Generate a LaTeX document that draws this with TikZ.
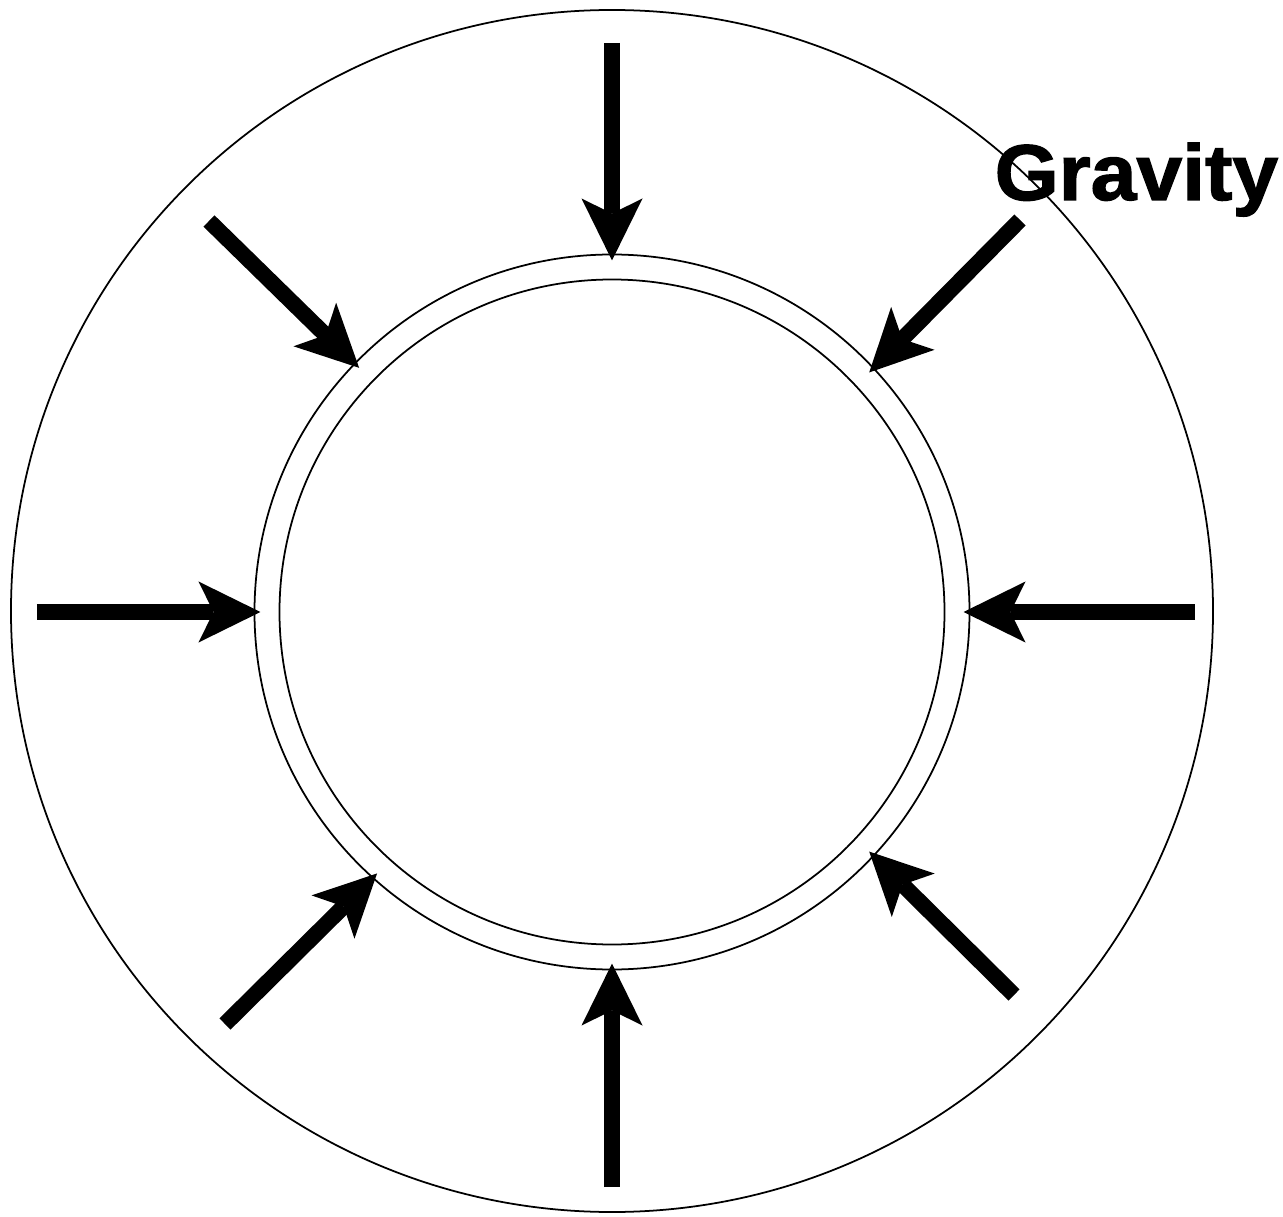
\documentclass[tikz,border=0pt]{standalone}
\usepackage{fontspec}
\setmainfont{Liberation Sans}
\newfontfamily\heavyfont[FakeBold=1.6]{Liberation Sans Bold}
\usetikzlibrary{arrows.meta}

\begin{document}
\begin{tikzpicture}[
    every node/.style={font=\heavyfont\fontsize{22.5pt}{27pt}\selectfont},
    shell/.style={draw, circle, line width=0.5pt, inner sep=0pt, outer sep=0pt},
    pull/.style={line width=4.5pt, -{Stealth[length=6.2mm, width=6.1mm, inset=1.5mm, line width=0pt]}, shorten >=-0.6mm}
]
    \useasboundingbox (-6.12,-6.04) rectangle (6.71,6.12);
    % shells
    \node[shell, minimum size=12.02cm] (sky) at (0,0.01) {};
    \node[shell, minimum size=7.15cm] (ring) at (0,0) {};
    \node[shell, minimum size=6.65cm] (core) at (0,0) {};
    % starting points of the pulls
    \coordinate (n)  at (0,5.69);
    \coordinate (s)  at (0,-5.75);
    \coordinate (w)  at (-5.75,0);
    \coordinate (e)  at (5.83,0);
    \coordinate (nw) at (-4.03,3.91);
    \coordinate (ne) at (4.08,3.92);
    \coordinate (sw) at (-3.87,-4.12);
    \coordinate (se) at (4.02,-3.83);
    \draw[pull] (n)  -- (ring.90);
    \draw[pull] (s)  -- (ring.270);
    \draw[pull] (w)  -- (ring.180);
    \draw[pull] (e)  -- (ring.0);
    \draw[pull] (nw) -- (ring.136);
    \draw[pull] (ne) -- (ring.43);
    \draw[pull] (sw) -- (ring.228);
    \draw[pull] (se) -- (ring.317);
    \node[anchor=base west, inner sep=0pt, transform shape, xscale=1.04] (gravity) at (3.82,4.12) {Gravity};
\end{tikzpicture}
\end{document}
